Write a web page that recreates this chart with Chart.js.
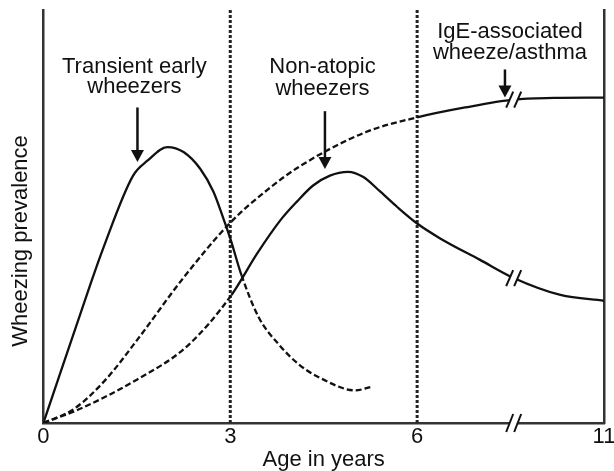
<!DOCTYPE html>
<html>
<head>
<meta charset="utf-8">
<script src="https://cdn.jsdelivr.net/npm/chart.js@4"></script>
<style>
  html, body { margin: 0; padding: 0; background: #fff; }
  #wrap { width: 614px; height: 471px; }
</style>
</head>
<body>
<div id="wrap"><canvas id="wheezeChart"></canvas></div>
<script>
// Age axis is broken after 6 years: scale value 9 stands for 11 years.
const ageTicks = [0, 3, 6, 9];
const ageTickLabels = ['0', '3', '6', '11'];
const ageBreak = 7.55;

// Transient early wheezers: solid until it crosses the non-atopic curve, dashed after.
const transientAge = [0, 0.75, 0.96, 1.44, 1.67, 1.99, 2.25, 2.52, 2.73, 2.89, 3.0, 3.18, 3.46, 3.78, 4.10, 4.42, 5.01, 5.25];
const transientPrev = [0, 33.4, 42.3, 59.9, 63.5, 66.8, 65.6, 61.5, 56.0, 49.5, 44.7, 35.8, 25.5, 19.0, 14.2, 11.1, 7.9, 8.7];
const transientDashFrom = 3.18;

// Non-atopic wheezers: dashed before age 3.
const nonAtopicAge = [0, 0.6, 1.5, 2.3, 3.02, 3.43, 3.80, 4.07, 4.33, 4.60, 4.89, 5.13, 5.41, 5.68, 6.0, 6.37, 7.01, 7.55, 8.3, 9.0];
const nonAtopicPrev = [0, 3.5, 10.5, 18.5, 31.0, 41.0, 49.0, 53.6, 57.5, 59.9, 60.8, 59.6, 56.0, 52.3, 48.3, 44.7, 39.5, 35.1, 31.0, 29.6];
const nonAtopicSolidFrom = 3.02;

// IgE-associated wheeze/asthma: dashed before age 6.
const igeAge = [0, 0.5, 1.0, 1.5, 2.24, 3.0, 3.6, 4.1, 5.17, 6.0, 6.77, 7.55, 8.2, 9.0];
const igePrev = [0, 3.5, 10.5, 20, 35, 48.5, 56.5, 62, 70.4, 74.0, 76.4, 78.3, 78.7, 78.8];
const igeSolidFrom = 6.0;

const phaseLines = [3, 6];

// Annotations (data coordinates).
const arrows = [
  { x: 1.51, from: 76.4, to: 63.2 },
  { x: 4.52, from: 75.5, to: 61.5 },
  { x: 7.41, from: 85.6, to: 78.8 },
];
const labels = [
  { x: 1.46, y: 86.3, text: 'Transient early' },
  { x: 1.46, y: 81.3, text: 'wheezers' },
  { x: 4.48, y: 86.1, text: 'Non-atopic' },
  { x: 4.48, y: 80.8, text: 'wheezers' },
  { x: 7.49, y: 94.7, text: 'IgE-associated' },
  { x: 7.49, y: 89.7, text: 'wheeze/asthma' },
];

const ink = '#111';
const axisInk = '#333';
const fontFamily = '"Liberation Sans", Arial, Helvetica, sans-serif';
const dash = [6, 3];

function toPoints(xs, ys) {
  return xs.map((x, i) => ({ x: x, y: ys[i] }));
}

function curve(xs, ys, dashTest) {
  return {
    data: toPoints(xs, ys),
    borderColor: ink,
    borderWidth: 2.3,
    pointRadius: 0,
    cubicInterpolationMode: 'monotone',
    segment: { borderDash: (c) => (dashTest(c) ? dash : undefined) },
  };
}

const datasets = [
  curve(transientAge, transientPrev, (c) => c.p0.parsed.x >= transientDashFrom - 1e-6),
  curve(nonAtopicAge, nonAtopicPrev, (c) => c.p1.parsed.x <= nonAtopicSolidFrom + 1e-6),
  curve(igeAge, igePrev, (c) => c.p1.parsed.x <= igeSolidFrom + 1e-6),
];
phaseLines.forEach((age) => {
  datasets.push({
    data: [{ x: age, y: 0 }, { x: age, y: 100 }],
    borderColor: '#222',
    borderWidth: 3,
    borderDash: [3, 2],
    pointRadius: 0,
  });
});

// Draws the axis breaks, the arrows and the in-plot labels.
const decorations = {
  id: 'decorations',
  afterDatasetsDraw(chart) {
    const { ctx, scales } = chart;
    const xs = scales.x;
    const ys = scales.y;

    function breakMark(px, py, halfH) {
      ctx.save();
      ctx.fillStyle = '#fff';
      ctx.beginPath();
      ctx.moveTo(px - 4 - 3, py + 5);
      ctx.lineTo(px + 4 - 3, py + 5);
      ctx.lineTo(px + 4 + 3, py - 5);
      ctx.lineTo(px - 4 + 3, py - 5);
      ctx.closePath();
      ctx.fill();
      ctx.strokeStyle = ink;
      ctx.lineWidth = 2;
      [-4, 4].forEach((off) => {
        ctx.beginPath();
        ctx.moveTo(px + off - 3.5, py + halfH);
        ctx.lineTo(px + off + 3.5, py - halfH);
        ctx.stroke();
      });
      ctx.restore();
    }

    const bx = xs.getPixelForValue(ageBreak);
    [1, 2].forEach((idx) => {
      const meta = chart.getDatasetMeta(idx);
      const pt = meta.data[chart.data.datasets[idx].data.findIndex((d) => d.x === ageBreak)];
      if (pt) breakMark(bx, pt.y, 8);
    });
    breakMark(bx, ys.getPixelForValue(0), 9);

    ctx.save();
    ctx.strokeStyle = ink;
    ctx.fillStyle = ink;
    ctx.lineWidth = 2.5;
    arrows.forEach((a) => {
      const px = xs.getPixelForValue(a.x);
      const top = ys.getPixelForValue(a.from);
      const tip = ys.getPixelForValue(a.to);
      ctx.beginPath();
      ctx.moveTo(px, top);
      ctx.lineTo(px, tip - 10);
      ctx.stroke();
      ctx.beginPath();
      ctx.moveTo(px - 6.5, tip - 12);
      ctx.lineTo(px + 6.5, tip - 12);
      ctx.lineTo(px, tip);
      ctx.closePath();
      ctx.fill();
    });

    ctx.font = '22px ' + fontFamily;
    ctx.textAlign = 'center';
    ctx.textBaseline = 'middle';
    labels.forEach((l) => {
      ctx.fillText(l.text, xs.getPixelForValue(l.x), ys.getPixelForValue(l.y));
    });
    ctx.restore();
  },
};

const textFont = { family: fontFamily, size: 22, lineHeight: 1 };

new Chart(document.getElementById('wheezeChart'), {
  type: 'line',
  data: { datasets: datasets },
  plugins: [decorations],
  options: {
    responsive: true,
    maintainAspectRatio: false,
    animation: false,
    layout: { padding: { left: 8, top: 10, right: 0, bottom: 0 } },
    plugins: { legend: { display: false }, tooltip: { enabled: false } },
    scales: {
      x: {
        type: 'linear',
        min: 0,
        max: 9,
        afterBuildTicks: (s) => {
          s.ticks = ageTicks.map((v) => ({ value: v }));
        },
        afterFit: (s) => {
          s.paddingRight = 10;
        },
        ticks: {
          autoSkip: false,
          maxRotation: 0,
          padding: 3,
          color: ink,
          font: textFont,
          callback: (v) => ageTickLabels[ageTicks.indexOf(v)],
        },
        grid: { display: false, drawTicks: false },
        border: { display: true, color: axisInk, width: 2.5 },
        title: { display: true, text: 'Age in years', color: ink, font: textFont, padding: { top: -2, bottom: 0 } },
      },
      y: {
        min: 0,
        max: 100,
        ticks: { display: false },
        grid: { display: false, drawTicks: false },
        border: { display: true, color: axisInk, width: 2.5 },
        title: {
          display: true,
          // trailing no-break spaces push the title a little below the axis middle, as in the original
          text: 'Wheezing prevalence\u00a0\u00a0\u00a0\u00a0\u00a0\u00a0\u00a0\u00a0',
          color: ink,
          font: { family: fontFamily, size: 22, lineHeight: 1.2 },
          padding: { top: 0, bottom: 9 },
        },
      },
      yRight: {
        position: 'right',
        min: 0,
        max: 100,
        ticks: { display: false },
        grid: { display: false, drawTicks: false },
        border: { display: true, color: axisInk, width: 2.5 },
      },
    },
  },
});
</script>
</body>
</html>
